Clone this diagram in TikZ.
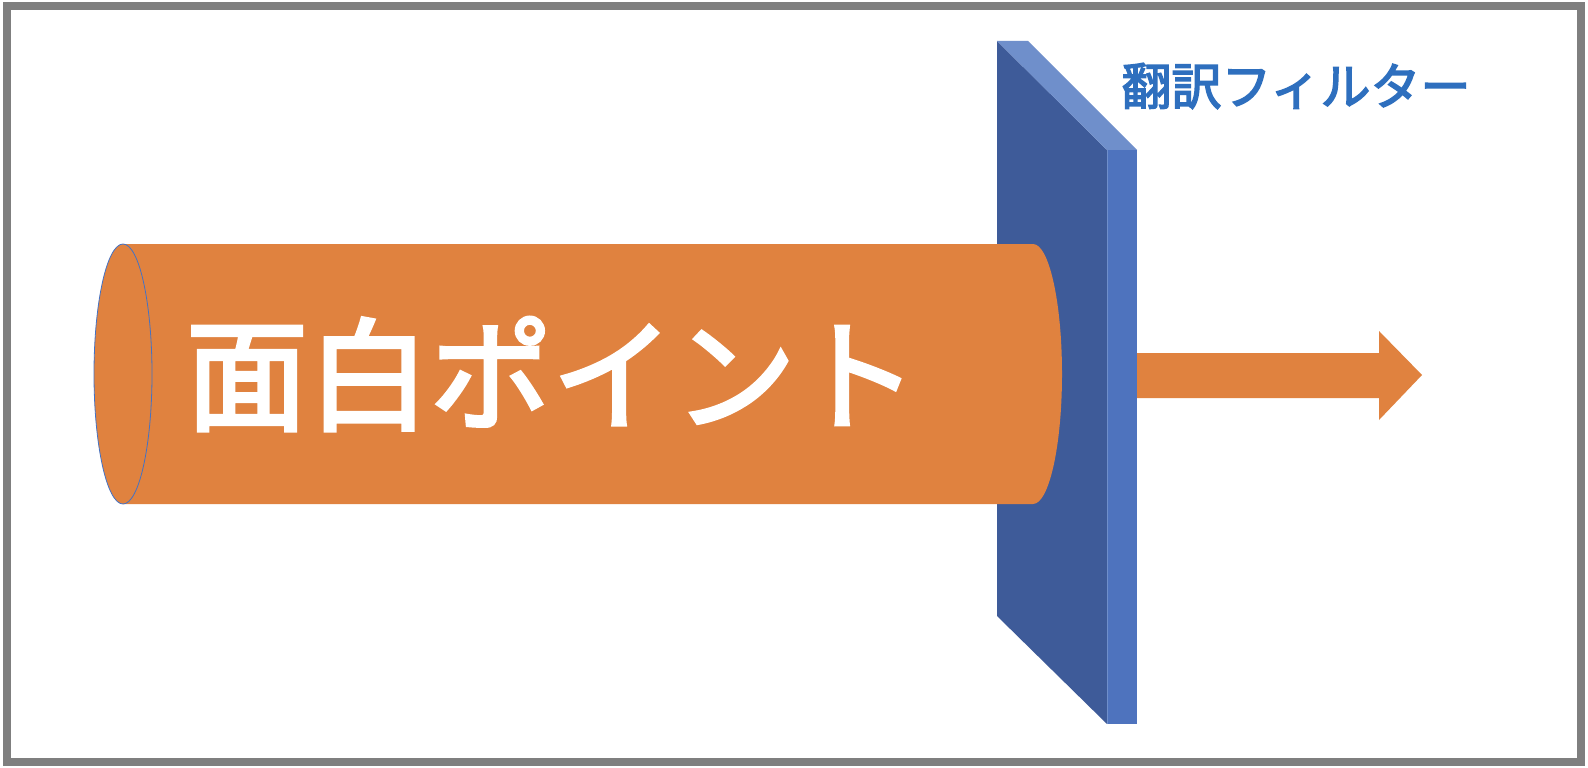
\documentclass[tikz,border=0pt]{standalone}
\usepackage{fontspec}
\newfontfamily\cjk{Noto Sans CJK JP}[FakeBold=3]
\definecolor{cylorange}{HTML}{E0823F}
\definecolor{frontblue}{HTML}{3E5B99}
\definecolor{topblue}{HTML}{6F8FCB}
\definecolor{sideblue}{HTML}{4E73BE}
\definecolor{labelblue}{HTML}{2E6FBE}
\definecolor{edgeblue}{HTML}{4472C4}
\definecolor{framegray}{HTML}{7F7F7F}
\begin{document}
\begin{tikzpicture}[x=1pt,y=-1pt,
  maintext/.style={inner sep=0pt,text=white,font=\cjk\fontsize{122}{122}\selectfont},
  labeltext/.style={inner sep=0pt,text=labelblue,font=\cjk\fontsize{50}{50}\selectfont}]
\useasboundingbox (0,0) rectangle (1588,768);
\fill[white] (0,0) rectangle (1588,768);
\draw[framegray,line width=8pt] (7,6) rectangle (1581,762);
% filter
\fill[frontblue] (997,41) -- (1107,150) -- (1107,724) -- (997,616) -- cycle;
\fill[topblue] (997,41) -- (1028,41) -- (1137,150) -- (1107,150) -- cycle;
\fill[sideblue] (1107,150) -- (1137,150) -- (1137,724) -- (1107,724) -- cycle;
\draw[topblue,line width=0.6pt] (1107,150) -- (1107,724);
% cylinder
\fill[cylorange] (123,244) -- (1033,244) arc[start angle=-90,end angle=90,x radius=29,y radius=130] -- (123,504) -- cycle;
\filldraw[fill=cylorange,draw=edgeblue,line width=0.8pt] (123,374) ellipse[x radius=29,y radius=130];
% arrow
\fill[cylorange] (1137,353) -- (1379,353) -- (1379,331) -- (1422,375) -- (1379,420) -- (1379,398) -- (1137,398) -- cycle;
% texts
\node[maintext] (main) at (552,374) {面白ポイント};
\node[labeltext] (label) at (1296,86) {翻訳フィルター};
\end{tikzpicture}
\end{document}
